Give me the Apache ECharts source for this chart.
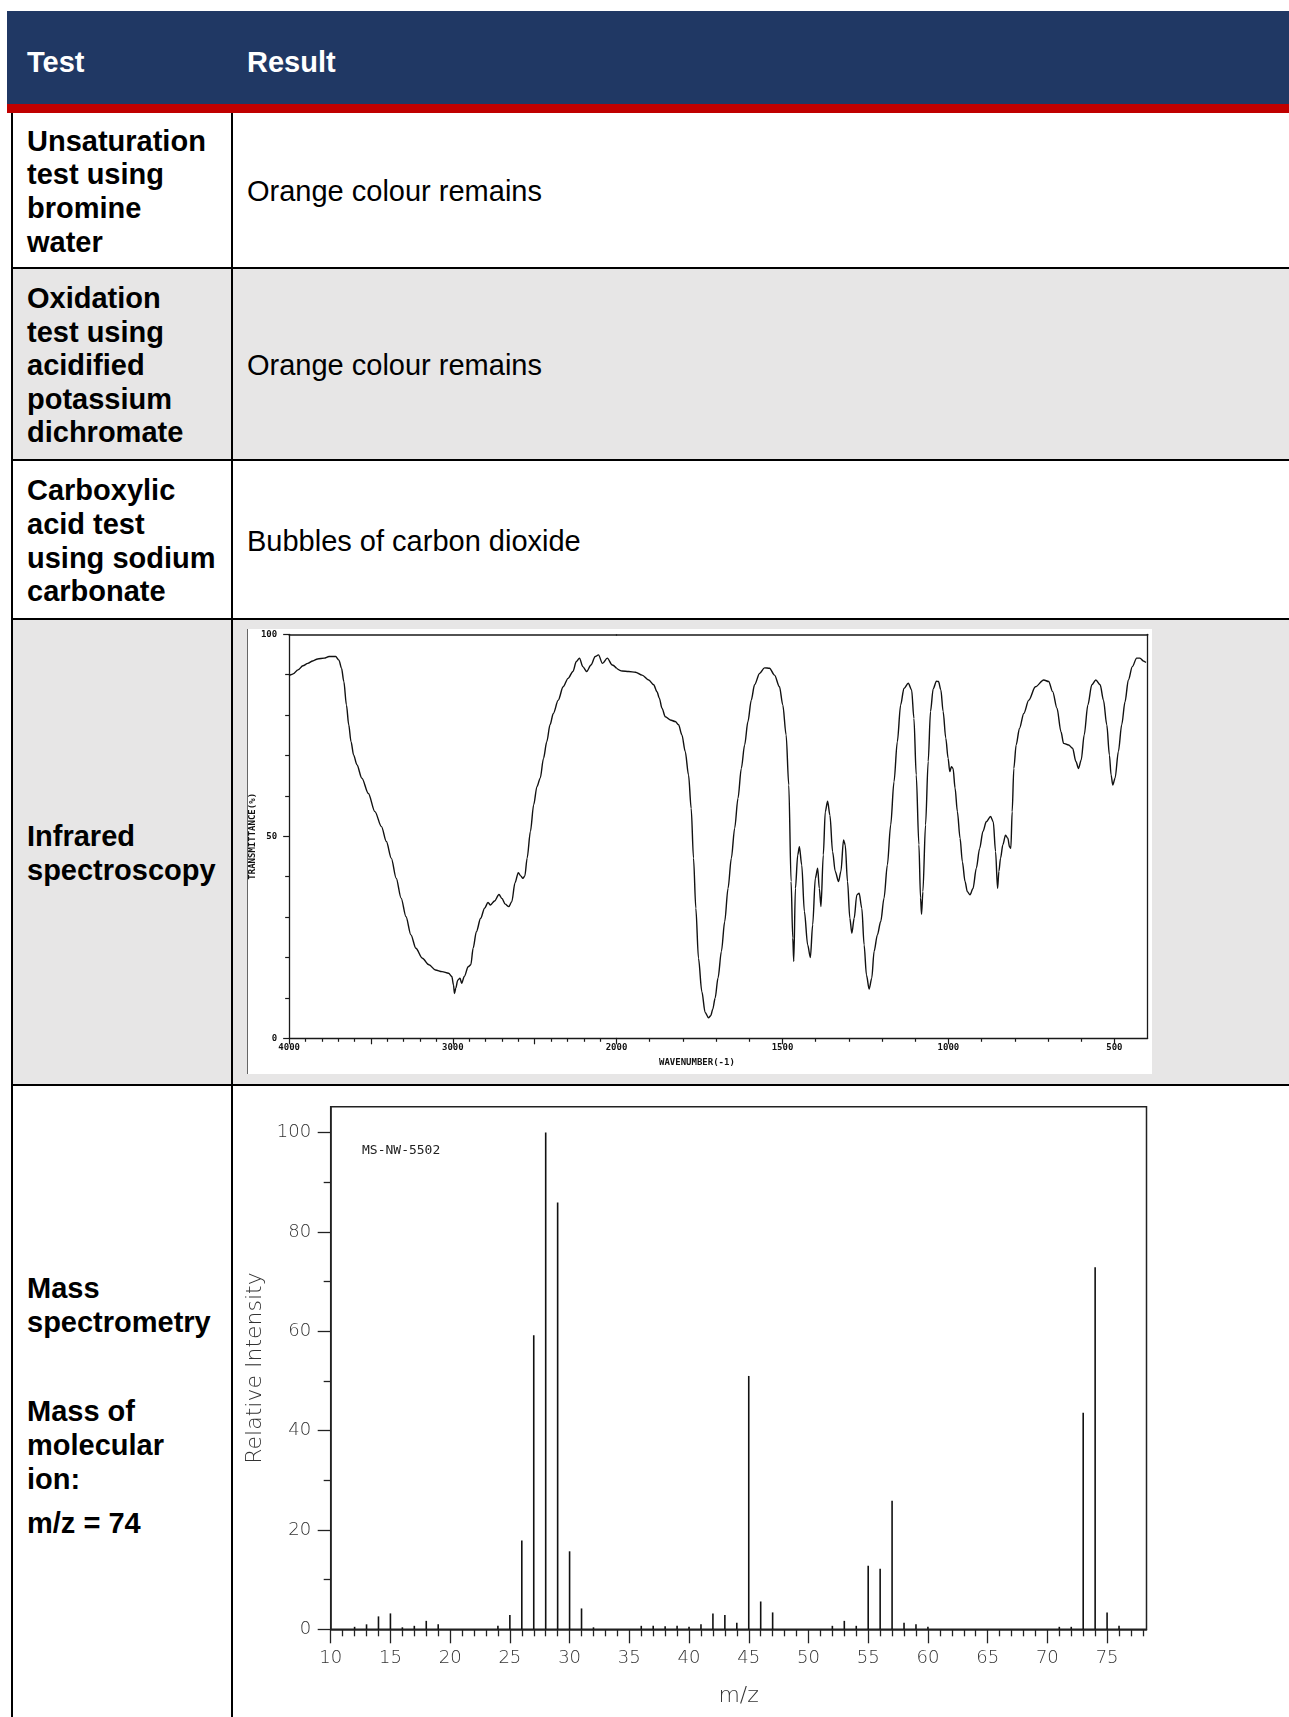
<!DOCTYPE html>
<html>
<head>
<meta charset="utf-8">
<title>Test results</title>
<script src="https://cdn.jsdelivr.net/npm/echarts@6/dist/echarts.min.js"></script>
<style>
  html, body { margin: 0; padding: 0; background: #fff; width: 1289px; height: 1717px; overflow: hidden; }
  body { position: relative; font-family: "Liberation Sans", Arial, sans-serif; color: #000; }
  .abs { position: absolute; }
  .hdr { left: 7px; top: 11px; width: 1282px; height: 93px; background: #203864; }
  .red { left: 7px; top: 104px; width: 1282px; height: 9px; background: #C00000; }
  .htxt { color: #fff; font-weight: bold; font-size: 29px; line-height: 33px; top: 46px; }
  .grey { left: 13px; width: 1276px; background: #E7E6E6; }
  .hl { left: 11px; width: 1278px; height: 2px; background: #000; }
  .vl { width: 2px; background: #000; top: 113px; height: 1604px; }
  .cell { display: flex; align-items: center; font-size: 29px; line-height: 33.6px; box-sizing: border-box; padding-top: 4px; }
  .lc { left: 27px; width: 204px; font-weight: bold; }
  .rc { left: 247px; width: 1000px; }
  .stack { font-size: 29px; line-height: 34px; font-weight: bold; left: 27px; width: 204px; }
  .stack p { margin: 0; }
  #ir { left: 247px; top: 629px; width: 905px; height: 445px; background: #fff; }
  #irEdge { left: 247px; top: 629px; width: 1px; height: 445px; background: #666; }
  #ms { left: 233px; top: 1086px; width: 1056px; height: 631px; }
</style>
</head>
<body>
  <!-- header band -->
  <div class="abs hdr"></div>
  <div class="abs red"></div>
  <div class="abs htxt" style="left:27px">Test</div>
  <div class="abs htxt" style="left:247px">Result</div>

  <!-- shaded rows -->
  <div class="abs grey" style="top:269px;height:190px"></div>
  <div class="abs grey" style="top:620px;height:464px"></div>

  <!-- rules -->
  <div class="abs vl" style="left:11px"></div>
  <div class="abs vl" style="left:231px"></div>
  <div class="abs hl" style="top:267px"></div>
  <div class="abs hl" style="top:459px"></div>
  <div class="abs hl" style="top:618px"></div>
  <div class="abs hl" style="top:1084px"></div>

  <!-- row 1 -->
  <div class="abs cell lc" style="top:113px;height:154px">Unsaturation<br>test using<br>bromine<br>water</div>
  <div class="abs cell rc" style="top:113px;height:154px">Orange colour remains</div>
  <!-- row 2 -->
  <div class="abs cell lc" style="top:269px;height:190px">Oxidation<br>test using<br>acidified<br>potassium<br>dichromate</div>
  <div class="abs cell rc" style="top:269px;height:190px">Orange colour remains</div>
  <!-- row 3 -->
  <div class="abs cell lc" style="top:461px;height:157px">Carboxylic<br>acid test<br>using sodium<br>carbonate</div>
  <div class="abs cell rc" style="top:461px;height:157px">Bubbles of carbon dioxide</div>
  <!-- row 4 -->
  <div class="abs cell lc" style="top:620px;height:464px">Infrared<br>spectroscopy</div>
  <!-- row 5 -->
  <div class="abs stack" style="top:1271px">
    <p>Mass<br>spectrometry</p>
    <p style="margin-top:55px">Mass of<br>molecular<br>ion:</p>
    <p style="margin-top:10px">m/z = 74</p>
  </div>

  <div id="ir" class="abs"></div>
  <div id="irEdge" class="abs"></div>
  <div id="ms" class="abs"></div>

<script>
// ---- Infrared spectrum: wavenumber (cm-1) and % transmittance ----
const irWavenumber = [
  4000, 3990, 3976, 3946, 3916, 3886, 3856, 3826, 3786, 3756, 3716, 3696, 3680, 3666, 3650, 3636,
  3622, 3606, 3586, 3556, 3516, 3476, 3436, 3406, 3376, 3346, 3316, 3286, 3256, 3226, 3186, 3146,
  3106, 3066, 3026, 3006, 2996, 2990, 2982, 2970, 2956, 2946, 2930, 2906, 2890, 2876, 2856, 2830,
  2806, 2785, 2770, 2745, 2718, 2700, 2680, 2658, 2640, 2620, 2600, 2585, 2572, 2560, 2546, 2526,
  2506, 2486, 2466, 2446, 2426, 2406, 2386, 2356, 2326, 2296, 2266, 2246, 2226, 2206, 2182, 2156,
  2130, 2110, 2086, 2056, 2026, 2000, 1983, 1963, 1943, 1923, 1903, 1888, 1878, 1871, 1863, 1853,
  1838, 1823, 1813, 1803, 1793, 1783, 1775, 1768, 1761, 1753, 1743, 1733, 1723, 1716, 1710, 1703,
  1694, 1684, 1674, 1664, 1654, 1644, 1634, 1624, 1614, 1604, 1594, 1584, 1569, 1554, 1539, 1524,
  1509, 1499, 1489, 1481, 1474, 1469, 1466, 1461, 1454, 1449, 1442, 1434, 1424, 1416, 1409, 1401,
  1394, 1389, 1384, 1377, 1371, 1364, 1357, 1349, 1341, 1331, 1324, 1316, 1311, 1304, 1297, 1291,
  1284, 1276, 1269, 1261, 1254, 1247, 1239, 1231, 1224, 1214, 1204, 1194, 1184, 1174, 1164, 1154,
  1144, 1134, 1121, 1111, 1104, 1097, 1089, 1084, 1081, 1077, 1069, 1061, 1054, 1046, 1036, 1030,
  1023, 1016, 1008, 1001, 996, 991, 986, 980, 973, 965, 958, 950, 943, 935, 926, 916,
  906, 896, 886, 873, 865, 858, 852, 848, 843, 836, 828, 821, 816, 812, 808, 803,
  796, 786, 773, 758, 738, 713, 698, 686, 673, 661, 653, 638, 626, 616, 608, 600,
  591, 580, 568, 556, 543, 533, 523, 515, 510, 505, 498, 488, 478, 468, 458, 446,
  433, 423, 413, 405
];
const irTransmittance = [
  89.8, 90.0, 90.2, 91.2, 92.2, 92.8, 93.4, 93.9, 94.1, 94.5, 94.5, 93.6, 91.6, 88.3, 82.5, 77.6,
  73.4, 70.1, 67.7, 64.4, 60.6, 56.1, 52.4, 48.7, 44.6, 39.6, 34.7, 30.1, 25.6, 22.3, 19.8, 18.2,
  16.9, 16.5, 16.1, 15.3, 13.2, 11.1, 12.4, 14.4, 14.9, 13.6, 15.3, 17.7, 18.2, 22.3, 26.4, 29.7,
  32.2, 33.6, 33.0, 34.0, 35.6, 34.6, 33.2, 32.6, 33.8, 38.5, 41.0, 40.2, 39.6, 40.2, 44.6, 51.2,
  57.8, 62.3, 64.4, 69.3, 73.4, 77.6, 80.4, 83.7, 87.0, 89.1, 90.8, 93.2, 94.1, 92.0, 90.8, 92.4,
  94.5, 94.9, 92.8, 94.1, 92.4, 91.6, 90.9, 90.8, 90.6, 89.9, 88.7, 87.5, 85.8, 84.2, 81.7, 79.6,
  78.8, 78.4, 77.6, 75.1, 71.0, 65.2, 56.9, 44.6, 32.2, 19.8, 11.6, 6.4, 5.1, 5.6, 7.2, 9.9,
  15.0, 21.5, 28.9, 37.1, 44.6, 52.0, 59.4, 66.8, 72.6, 78.4, 83.7, 87.5, 90.3, 91.7, 91.6, 89.9,
  87.0, 82.5, 75.1, 62.7, 38.8, 24.8, 19.0, 37.1, 45.4, 47.4, 42.9, 31.4, 23.1, 20.0, 28.1, 39.6,
  42.1, 37.1, 32.6, 45.4, 56.1, 58.7, 55.2, 46.2, 41.3, 38.8, 41.3, 49.1, 47.9, 38.8, 29.7, 26.0,
  29.7, 35.5, 35.9, 32.2, 23.1, 15.7, 12.2, 14.9, 21.5, 25.6, 28.9, 34.7, 42.9, 52.8, 63.5, 73.4,
  82.5, 86.6, 87.9, 86.3, 79.2, 65.2, 47.9, 34.7, 30.7, 36.3, 52.8, 68.5, 80.9, 86.5, 88.4, 88.3,
  86.3, 80.9, 74.3, 69.3, 66.0, 67.2, 66.8, 61.9, 56.1, 49.5, 43.7, 38.8, 36.3, 35.5, 37.1, 42.1,
  47.0, 51.2, 53.6, 54.9, 53.6, 46.2, 37.1, 41.3, 44.6, 47.9, 50.3, 49.5, 47.4, 47.0, 56.1, 66.8,
  72.6, 76.7, 80.4, 83.7, 87.0, 88.7, 88.3, 85.8, 81.7, 75.9, 73.0, 72.6, 71.8, 68.5, 66.8, 68.9,
  75.1, 82.5, 87.5, 88.7, 87.5, 83.7, 77.6, 70.1, 65.2, 62.7, 64.4, 71.0, 77.6, 83.3, 88.7, 92.0,
  94.1, 94.1, 93.4, 93.0
];

// IR axis ticks: the 4000-2000 span is drawn at half the scale of the 2000-400 span
const irMajorHigh = [2000, 2500, 3000, 3500, 4000];
const irLabelsHigh = [2000, 3000, 4000];
const irMinorHigh = [2100, 2200, 2300, 2400, 2600, 2700, 2800, 2900, 3100, 3200, 3300, 3400, 3600, 3700, 3800, 3900];
const irMajorLow = [500, 1000, 1500];
const irLabelsLow = [500, 1000, 1500];
const irMinorLow = [600, 700, 800, 900, 1100, 1200, 1300, 1400, 1600, 1700, 1800, 1900];
const irYMajor = [0, 50, 100];
const irYMinor = [10, 20, 30, 40, 60, 70, 80, 90];

// ---- Mass spectrum: m/z and relative intensity ----
const msMz = [12, 13, 14, 15, 16, 17, 18, 19, 24, 25, 26, 27, 28, 29, 30, 31, 32,
              36, 37, 38, 39, 40, 41, 42, 43, 44, 45, 46, 47,
              52, 53, 54, 55, 56, 57, 58, 59, 60, 71, 72, 73, 74, 75, 76];
const msIntensity = [0.5, 1.0, 2.6, 3.2, 0.4, 0.7, 1.7, 1.0, 0.7, 2.9, 17.9, 59.2, 100, 85.9, 15.7, 4.2, 0.4,
                     0.7, 0.7, 0.6, 0.7, 0.5, 1.0, 3.2, 2.9, 1.3, 51.0, 5.6, 3.4,
                     0.7, 1.7, 0.7, 12.8, 12.2, 25.9, 1.3, 1.0, 0.5, 0.5, 0.5, 43.6, 72.9, 3.4, 0.7];
const msXMajor = [10, 15, 20, 25, 30, 35, 40, 45, 50, 55, 60, 65, 70, 75];
const msXMinor = [11, 12, 13, 14, 16, 17, 18, 19, 21, 22, 23, 24, 26, 27, 28, 29, 31, 32, 33, 34,
                  36, 37, 38, 39, 41, 42, 43, 44, 46, 47, 48, 49, 51, 52, 53, 54, 56, 57, 58, 59,
                  61, 62, 63, 64, 66, 67, 68, 69, 71, 72, 73, 74, 76, 77, 78];
const msYMajor = [0, 20, 40, 60, 80, 100];
const msYMinor = [10, 30, 50, 70, 90];

// ================= IR chart =================
const pixFont = '"DejaVu Sans Mono", "Liberation Mono", monospace';
const irInk = '#1a1a1a';
const plain = v => String(v);
const irHighPts = [], irLowPts = [];
irWavenumber.forEach((w, i) => {
  if (w >= 2000) irHighPts.push([w, irTransmittance[i]]);
  if (w <= 2000) irLowPts.push([w, irTransmittance[i]]);
});

function hiddenAxisParts() {
  return { axisLabel: { show: false }, splitLine: { show: false } };
}

const ir = echarts.init(document.getElementById('ir'), null, { renderer: 'canvas' });
ir.setOption({
  animation: false,
  backgroundColor: '#fff',
  grid: [
    { left: 37.3, top: 5.3, width: 332.2, height: 404 },
    { left: 369.5, top: 5.3, width: 531.1, height: 404 }
  ],
  xAxis: [
    { // 0: 4000-2000 main
      type: 'value', gridIndex: 0, inverse: true, min: 2000, max: 4000, position: 'bottom',
      axisLine: { show: true, lineStyle: { color: irInk, width: 1.3 } },
      axisTick: { show: true, customValues: irMajorHigh, length: 6, lineStyle: { color: irInk, width: 1.2 } },
      axisLabel: { show: true, customValues: irLabelsHigh, formatter: plain, margin: 5, fontSize: 9, fontFamily: pixFont, fontWeight: 'bold', color: '#111' },
      splitLine: { show: false }
    },
    { // 1: 4000-2000 minor ticks
      type: 'value', gridIndex: 0, inverse: true, min: 2000, max: 4000, position: 'bottom',
      axisLine: { show: false },
      axisTick: { show: true, customValues: irMinorHigh, length: 3.5, lineStyle: { color: irInk, width: 1.2 } },
      ...hiddenAxisParts()
    },
    { // 2: frame top
      type: 'value', gridIndex: 0, inverse: true, min: 2000, max: 4000, position: 'top',
      axisLine: { show: true, lineStyle: { color: irInk, width: 1.5 } },
      axisTick: { show: false }, ...hiddenAxisParts()
    },
    { // 3: 2000-400 main
      type: 'value', gridIndex: 1, inverse: true, min: 400, max: 2000, position: 'bottom',
      axisLine: { show: true, lineStyle: { color: irInk, width: 1.3 } },
      axisTick: { show: true, customValues: irMajorLow, length: 6, lineStyle: { color: irInk, width: 1.2 } },
      axisLabel: { show: true, customValues: irLabelsLow, formatter: plain, margin: 5, fontSize: 9, fontFamily: pixFont, fontWeight: 'bold', color: '#111' },
      splitLine: { show: false }
    },
    { // 4: 2000-400 minor ticks
      type: 'value', gridIndex: 1, inverse: true, min: 400, max: 2000, position: 'bottom',
      axisLine: { show: false },
      axisTick: { show: true, customValues: irMinorLow, length: 3.5, lineStyle: { color: irInk, width: 1.2 } },
      ...hiddenAxisParts()
    },
    { // 5: frame top
      type: 'value', gridIndex: 1, inverse: true, min: 400, max: 2000, position: 'top',
      axisLine: { show: true, lineStyle: { color: irInk, width: 1.5 } },
      axisTick: { show: false }, ...hiddenAxisParts()
    }
  ],
  yAxis: [
    { // 0: transmittance scale
      type: 'value', gridIndex: 0, min: 0, max: 100, position: 'left',
      axisLine: { show: true, lineStyle: { color: irInk, width: 1.3 } },
      axisTick: { show: true, customValues: irYMajor, length: 6, lineStyle: { color: irInk, width: 1.2 } },
      axisLabel: { show: true, customValues: irYMajor, formatter: plain, margin: 12, fontSize: 9, fontFamily: pixFont, fontWeight: 'bold', color: '#111' },
      splitLine: { show: false },
      name: 'TRANSMITTANCE(%)', nameLocation: 'middle', nameGap: 29,
      nameTextStyle: { fontSize: 9, fontFamily: pixFont, fontWeight: 'bold', color: '#111' }
    },
    { // 1: minor ticks
      type: 'value', gridIndex: 0, min: 0, max: 100, position: 'left',
      axisLine: { show: false },
      axisTick: { show: true, customValues: irYMinor, length: 4, lineStyle: { color: irInk, width: 1.2 } },
      ...hiddenAxisParts()
    },
    { // 2: right side of the frame
      type: 'value', gridIndex: 1, min: 0, max: 100, position: 'right',
      axisLine: { show: true, lineStyle: { color: irInk, width: 1.3 } },
      axisTick: { show: false }, ...hiddenAxisParts()
    }
  ],
  graphic: [{
    type: 'text', left: 412, top: 429,
    style: { text: 'WAVENUMBER(-1)', font: 'bold 9px ' + pixFont, fill: '#111' }
  }],
  series: [
    {
      type: 'line', xAxisIndex: 0, yAxisIndex: 0, data: irHighPts,
      showSymbol: false, smooth: 0.3, smoothMonotone: 'x',
      lineStyle: { color: '#111', width: 1.4 }
    },
    {
      type: 'line', xAxisIndex: 3, yAxisIndex: 2, data: irLowPts,
      showSymbol: false, smooth: 0.3, smoothMonotone: 'x',
      lineStyle: { color: '#111', width: 1.4 }
    }
  ]
});

// ================= Mass spectrum chart =================
const msFont = '"DejaVu Sans", "Liberation Sans", sans-serif';
const msInk = '#222';
const msText = '#333';
const ms = echarts.init(document.getElementById('ms'), null, { renderer: 'canvas' });
ms.setOption({
  animation: false,
  title: {
    text: 'MS-NW-5502', left: 129, top: 58, padding: 0,
    textStyle: { fontSize: 13, fontWeight: 'normal', fontFamily: '"DejaVu Sans Mono", monospace', color: '#222' }
  },
  grid: {
    left: 97.7, top: 20.7, width: 815.8, height: 522.6,
    show: true, borderColor: msInk, borderWidth: 1.5, backgroundColor: 'transparent'
  },
  xAxis: [
    {
      type: 'value', min: 10, max: 78.3, position: 'bottom',
      axisLine: { show: true, onZero: false, lineStyle: { color: msInk, width: 1.5 } },
      axisTick: { show: true, customValues: msXMajor, length: 14, lineStyle: { color: msInk, width: 1.3 } },
      axisLabel: { show: true, customValues: msXMajor, margin: 20, fontSize: 18, fontFamily: msFont, fontWeight: 300, color: msText },
      splitLine: { show: false },
      name: 'm/z', nameLocation: 'middle', nameGap: 56,
      nameTextStyle: { fontSize: 22, fontFamily: msFont, fontWeight: 300, color: msText }
    },
    {
      type: 'value', min: 10, max: 78.3, position: 'bottom',
      axisLine: { show: false },
      axisTick: { show: true, customValues: msXMinor, length: 7, lineStyle: { color: msInk, width: 1.3 } },
      axisLabel: { show: false }, splitLine: { show: false }
    }
  ],
  yAxis: [
    {
      type: 'value', min: 0, max: 105.2, position: 'left',
      axisLine: { show: true, lineStyle: { color: msInk, width: 1.5 } },
      axisTick: { show: true, customValues: msYMajor, length: 13, lineStyle: { color: msInk, width: 1.3 } },
      axisLabel: { show: true, customValues: msYMajor, margin: 19.5, fontSize: 18, fontFamily: msFont, fontWeight: 300, color: msText },
      splitLine: { show: false },
      name: 'Relative Intensity', nameLocation: 'middle', nameGap: 58,
      nameTextStyle: { fontSize: 22, fontFamily: msFont, fontWeight: 300, color: msText }
    },
    {
      type: 'value', min: 0, max: 105.2, position: 'left',
      axisLine: { show: false },
      axisTick: { show: true, customValues: msYMinor, length: 7, lineStyle: { color: msInk, width: 1.3 } },
      axisLabel: { show: false }, splitLine: { show: false }
    }
  ],
  series: [{
    type: 'bar', xAxisIndex: 0, yAxisIndex: 0,
    data: msMz.map((m, i) => [m, msIntensity[i]]),
    barWidth: 1.6,
    itemStyle: { color: '#111' },
    emphasis: { disabled: true }
  }]
});
</script>
</body>
</html>
